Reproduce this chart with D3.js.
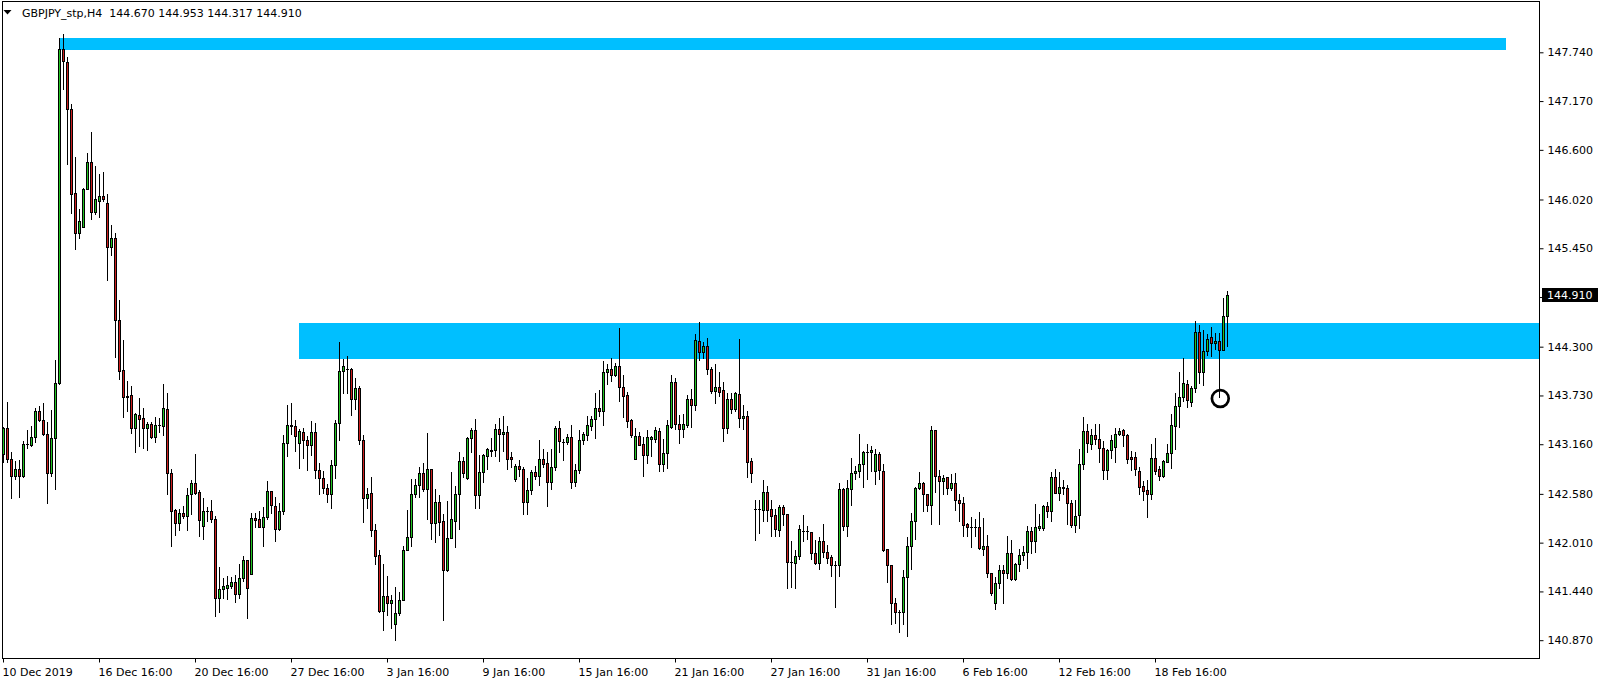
<!DOCTYPE html>
<html><head><meta charset="utf-8">
<script src="https://cdn.jsdelivr.net/npm/d3@7/dist/d3.min.js"></script>
<style>html,body{margin:0;padding:0;background:#fff;overflow:hidden}</style>
</head><body>
<svg id="c" width="1604" height="683"></svg>
<script>
const symbolTitle = "GBPJPY_stp,H4";
const lastBar = [144.670, 144.953, 144.317, 144.910];

const open = [143.05,143.35,142.99,142.79,142.88,142.80,143.17,143.16,143.25,143.55,143.45,143.28,142.83,143.24,143.88,147.78,147.63,147.08,146.10,145.63,145.70,146.15,146.46,145.88,146.01,146.07,145.98,145.47,145.58,144.62,144.03,143.73,143.74,143.36,143.51,143.47,143.35,143.40,143.25,143.39,143.38,143.58,142.83,142.40,142.25,142.36,142.33,142.58,142.71,142.61,142.21,142.39,142.39,142.29,141.37,141.47,141.49,141.51,141.56,141.42,141.60,141.81,141.65,142.30,142.29,142.20,142.32,142.62,142.44,142.18,142.38,143.18,143.38,143.38,143.18,143.31,143.22,143.16,143.31,142.86,142.77,142.65,142.59,142.92,143.41,144.02,144.05,144.05,143.69,143.82,143.22,142.54,142.60,142.16,141.87,141.22,141.39,141.31,141.06,141.19,141.35,141.93,142.08,142.58,142.69,142.83,142.64,142.88,142.25,142.49,142.27,141.70,142.07,142.27,142.59,142.97,142.77,143.24,143.33,142.57,142.84,143.03,143.09,143.10,143.34,143.28,143.31,143.02,142.76,142.91,142.88,142.49,142.63,142.84,142.80,142.99,142.95,142.72,142.90,143.35,143.19,143.19,143.25,142.73,142.87,143.21,143.27,143.38,143.46,143.59,143.56,144.01,144.05,143.98,144.08,143.83,143.74,143.45,142.99,143.26,143.17,143.04,143.23,143.23,143.32,142.93,143.06,143.37,143.89,143.40,143.34,143.39,143.69,143.62,144.37,144.24,144.31,144.04,143.79,143.83,143.80,143.36,143.69,143.58,143.75,143.47,143.50,142.97,142.41,142.41,142.40,142.61,142.41,142.34,142.16,142.43,142.35,141.79,141.78,141.86,142.15,142.15,142.14,141.89,141.78,142.04,141.91,141.85,141.75,141.75,142.64,142.21,142.64,142.83,142.85,142.94,143.08,143.07,142.85,143.05,142.85,141.94,141.75,141.31,141.21,141.20,141.61,141.98,142.27,142.65,142.71,142.58,142.45,143.33,142.80,142.74,142.78,142.65,142.71,142.52,142.48,142.23,142.20,142.20,142.20,141.94,141.98,141.66,141.31,141.55,141.70,141.66,141.89,141.59,141.77,141.87,141.91,142.15,142.03,142.19,142.19,142.44,142.39,142.78,142.60,142.67,142.65,142.48,142.22,142.34,142.93,143.32,143.17,143.27,143.23,143.12,142.87,143.10,143.13,143.28,143.33,143.27,143.02,143.02,142.85,142.68,142.63,142.59,143.00,142.88,142.80,142.96,143.06,143.38,143.61,143.72,143.87,143.66,143.82,144.48,144.01,144.25,144.42,144.35,144.37,144.27,144.670];
const high = [143.37,143.66,143.07,142.97,142.98,143.20,143.33,143.38,143.59,143.61,143.65,143.43,143.57,144.15,147.91,147.96,147.69,147.14,146.52,145.91,146.16,146.57,146.81,146.42,146.32,146.35,146.09,145.73,145.63,144.85,144.38,143.90,143.85,143.53,143.71,143.59,143.42,143.43,143.48,143.47,143.87,143.76,142.88,142.41,142.41,142.44,142.66,142.75,143.05,142.63,142.54,142.43,142.51,142.33,141.73,141.60,141.63,141.61,141.64,141.77,141.86,141.81,142.36,142.36,142.39,142.43,142.74,142.62,142.55,142.48,143.27,143.62,143.65,143.45,143.34,143.36,143.26,143.44,143.41,142.95,142.85,142.70,142.98,143.45,144.36,144.16,144.20,144.06,143.94,143.85,143.27,142.66,142.78,142.23,141.93,141.77,141.63,141.40,141.50,141.44,141.98,142.40,142.76,142.76,142.90,142.95,143.30,142.88,142.64,142.57,142.35,142.50,142.84,142.68,143.07,143.02,143.25,143.36,143.46,143.04,143.05,143.12,143.24,143.40,143.47,143.50,143.38,143.07,142.93,142.98,142.90,142.77,142.87,142.91,143.22,143.11,143.07,143.11,143.38,143.44,143.23,143.28,143.39,142.94,143.33,143.31,143.50,143.49,143.76,143.80,144.14,144.10,144.17,144.12,144.52,143.98,143.78,143.46,143.35,143.31,143.25,143.33,143.26,143.37,143.35,143.23,143.45,143.97,143.94,143.51,143.52,143.74,143.81,144.45,144.60,144.36,144.41,144.07,144.10,144.01,143.89,143.76,143.76,143.78,144.39,143.63,143.55,143.01,142.51,142.52,142.75,142.68,142.51,142.41,142.46,142.45,142.35,142.04,141.93,142.22,142.34,142.21,142.14,142.05,142.08,142.23,141.99,141.87,141.80,142.71,142.66,142.75,143.00,142.91,143.29,143.09,143.17,143.15,143.11,143.07,142.94,141.94,141.75,141.37,141.23,141.70,142.08,142.36,142.67,142.84,142.73,142.58,143.38,143.33,142.86,142.81,142.78,142.82,142.83,142.59,142.55,142.25,142.31,142.29,142.37,142.30,142.11,141.66,141.61,141.76,141.76,142.09,142.05,141.78,141.94,141.98,142.21,142.20,142.47,142.35,142.46,142.49,142.84,142.88,142.84,142.75,142.69,142.51,142.52,143.11,143.48,143.40,143.34,143.40,143.40,143.20,143.11,143.27,143.36,143.36,143.34,143.29,143.09,143.07,142.90,142.74,142.75,143.17,143.24,142.91,142.98,143.17,143.52,143.76,144.01,144.17,143.92,143.85,144.61,144.56,144.50,144.45,144.53,144.46,144.47,144.88,144.953];
const low = [142.96,142.96,142.54,142.76,142.55,142.78,143.12,143.15,143.19,143.44,143.27,142.48,142.79,142.64,143.87,147.32,146.44,145.87,145.45,145.58,145.70,146.15,145.80,145.86,145.82,146.01,145.08,145.38,144.19,143.93,143.48,143.55,143.30,143.07,143.14,143.12,143.10,143.24,143.19,143.31,143.27,142.59,141.98,142.11,142.16,142.30,142.16,142.35,142.59,142.09,142.06,142.27,142.26,141.16,141.20,141.37,141.36,141.48,141.32,141.37,141.57,141.14,141.65,142.20,142.20,141.98,142.29,142.36,142.03,142.16,142.35,143.03,143.29,143.09,142.89,143.01,142.86,143.04,142.77,142.59,142.60,142.49,142.42,142.77,143.22,143.77,143.77,143.51,143.58,143.17,142.26,142.42,142.09,141.77,141.20,141.00,141.17,141.02,140.88,141.17,141.35,141.93,141.98,142.55,142.55,142.62,142.29,142.06,142.02,142.11,141.11,141.68,142.07,141.97,142.18,142.78,142.76,143.08,142.42,142.42,142.72,142.88,143.03,143.03,142.97,143.09,142.88,142.90,142.74,142.80,142.35,142.35,142.58,142.76,142.69,142.90,142.44,142.64,142.87,143.07,142.98,143.17,142.66,142.68,142.83,143.17,143.22,143.33,143.24,143.50,143.39,143.87,143.90,143.96,143.67,143.48,143.37,143.25,142.99,143.16,142.80,142.95,143.03,143.19,142.85,142.85,142.89,143.36,143.34,143.18,143.25,143.37,143.37,143.57,144.15,144.17,143.99,143.76,143.65,143.73,143.20,143.30,143.53,143.55,143.37,143.34,142.78,142.72,142.05,142.13,142.27,142.27,142.09,142.09,142.09,142.22,141.49,141.50,141.48,141.82,142.04,142.06,141.82,141.77,141.71,141.85,141.78,141.63,141.26,141.63,142.16,142.09,142.46,142.76,142.78,142.67,142.76,142.85,142.70,142.76,141.92,141.56,141.07,141.08,140.97,141.07,140.92,141.71,142.06,142.64,142.38,142.39,142.23,142.61,142.23,142.58,142.58,142.63,142.40,142.27,142.09,142.09,141.97,142.09,141.94,141.87,141.61,141.40,141.24,141.49,141.31,141.60,141.58,141.58,141.69,141.81,141.72,141.89,141.91,142.16,142.16,142.31,142.27,142.60,142.51,142.58,142.23,142.20,142.14,142.19,142.88,143.08,143.11,143.17,142.96,142.76,142.76,143.01,142.96,143.27,143.14,142.95,142.86,142.81,142.58,142.52,142.32,142.53,142.82,142.75,142.78,142.96,142.89,143.11,143.37,143.67,143.60,143.61,143.78,143.88,143.86,144.21,144.20,144.28,143.72,144.27,144.317];
const close = [143.36,142.99,142.79,142.88,142.79,143.17,143.17,143.25,143.55,143.45,143.28,142.83,143.24,143.88,147.79,147.64,147.08,146.09,145.63,145.78,146.15,146.46,145.88,146.03,146.07,146.03,145.47,145.58,144.62,144.02,143.72,143.72,143.35,143.52,143.46,143.35,143.40,143.25,143.39,143.39,143.59,142.83,142.39,142.25,142.36,142.33,142.57,142.71,142.60,142.28,142.38,142.39,142.29,141.37,141.47,141.51,141.52,141.56,141.42,141.60,141.81,141.48,142.30,142.28,142.20,142.32,142.62,142.45,142.18,142.39,143.18,143.39,143.39,143.26,143.32,143.22,143.16,143.31,142.86,142.77,142.65,142.59,142.92,143.41,144.02,144.08,144.05,143.69,143.82,143.22,142.54,142.58,142.16,141.86,141.22,141.39,141.31,141.35,141.19,141.35,141.93,142.08,142.58,142.69,142.83,142.64,142.88,142.25,142.49,142.26,141.70,142.07,142.29,142.59,142.97,142.83,143.24,143.33,142.57,142.84,143.04,143.11,143.10,143.34,143.28,143.31,142.99,142.99,142.91,142.88,142.49,142.63,142.84,142.80,142.99,142.94,142.72,142.90,143.35,143.20,143.19,143.25,142.73,142.87,143.21,143.29,143.39,143.46,143.59,143.55,144.01,144.05,143.97,144.08,143.84,143.73,143.44,143.27,143.26,143.16,143.04,143.25,143.25,143.33,142.93,143.06,143.39,143.89,143.40,143.34,143.40,143.69,143.62,144.38,144.24,144.31,144.04,143.79,143.83,143.78,143.36,143.70,143.58,143.76,143.47,143.50,142.96,142.83,142.41,142.41,142.61,142.40,142.33,142.17,142.43,142.35,141.79,141.79,141.86,142.18,142.15,142.15,141.89,141.78,142.04,141.91,141.84,141.75,141.75,142.64,142.21,142.65,142.83,142.85,142.94,143.07,143.08,143.10,143.05,142.86,141.93,141.75,141.31,141.21,141.21,141.61,141.98,142.27,142.65,142.71,142.58,142.45,143.33,142.80,142.74,142.77,142.65,142.71,142.52,142.48,142.22,142.20,142.20,142.20,141.95,141.98,141.66,141.43,141.55,141.70,141.66,141.89,141.59,141.77,141.87,141.91,142.15,142.03,142.20,142.21,142.44,142.39,142.78,142.60,142.67,142.65,142.48,142.22,142.33,142.93,143.32,143.18,143.27,143.23,143.12,142.87,143.10,143.22,143.29,143.32,143.27,142.99,142.99,142.88,142.67,142.62,142.59,143.00,142.85,142.80,142.97,143.06,143.39,143.61,143.72,143.88,143.68,143.82,144.48,144.01,144.26,144.40,144.35,144.37,144.27,144.67,144.910];

const timeLabels = ["10 Dec 2019","16 Dec 16:00","20 Dec 16:00","27 Dec 16:00","3 Jan 16:00","9 Jan 16:00","15 Jan 16:00","21 Jan 16:00","27 Jan 16:00","31 Jan 16:00","6 Feb 16:00","12 Feb 16:00","18 Feb 16:00"];
const timeLabelBar = [0,24,48,72,96,120,144,168,192,216,240,264,288];
const priceTicks = [147.740,147.170,146.600,146.020,145.450,144.880,144.300,143.730,143.160,142.580,142.010,141.440,140.870];

const zoneStartBar = [13.95, 73.9];
const zoneEndBar = [375.6, 400];
const zoneTop = [147.91, 144.58];
const zoneBottom = [147.77, 144.16];

const markBar = [304.2];
const markPrice = [143.70];

const bullColor = "#22c422", bearColor = "#cc1e1e", zoneColor = "#00bfff";
const FONT = "DejaVu Sans, Tahoma, sans-serif";

const svg = d3.select("#c");
const fr = {l: 2, t: 1, r: 1539, b: 658};

const x = d3.scaleLinear().domain([0, open.length - 1]).range([3.5, 3.5 + 4 * (open.length - 1)]);
const y = d3.scaleLinear().domain([140.87, 147.74]).range([640.7, 52.8]);

svg.append("rect").attr("width", 1604).attr("height", 683).attr("fill", "#fff");
svg.append("clipPath").attr("id", "plot").append("rect")
  .attr("x", fr.l + 1).attr("y", fr.t + 1).attr("width", fr.r - fr.l - 1).attr("height", fr.b - fr.t - 1);
const plot = svg.append("g").attr("clip-path", "url(#plot)");

// zones
const zones = d3.range(zoneStartBar.length);
plot.selectAll("rect.zone").data(zones).join("rect").attr("class", "zone")
  .attr("x", i => Math.round(x(zoneStartBar[i])))
  .attr("width", i => Math.round(x(zoneEndBar[i])) - Math.round(x(zoneStartBar[i])))
  .attr("y", i => Math.round(y(zoneTop[i])))
  .attr("height", i => Math.round(y(zoneBottom[i])) - Math.round(y(zoneTop[i])))
  .attr("fill", zoneColor);

const bars = d3.range(open.length);
const col = i => Math.round(x(i) - 0.5);
// wicks
plot.selectAll("rect.wick").data(bars).join("rect").attr("class", "wick")
  .attr("x", i => col(i)).attr("width", 1)
  .attr("y", i => Math.round(y(high[i])))
  .attr("height", i => Math.round(y(low[i])) - Math.round(y(high[i])) + 1)
  .attr("fill", "#000");
// bodies
const yT = i => Math.round(y(Math.max(open[i], close[i])));
const yB = i => Math.round(y(Math.min(open[i], close[i])));
plot.selectAll("rect.body").data(bars).join("rect").attr("class", "body")
  .attr("x", i => col(i) - 1).attr("width", 3)
  .attr("y", yT).attr("height", i => yB(i) - yT(i) + 1)
  .attr("fill", "#000");
plot.selectAll("rect.fill").data(bars.filter(i => yB(i) - yT(i) >= 2)).join("rect").attr("class", "fill")
  .attr("x", i => col(i)).attr("width", 1)
  .attr("y", i => yT(i) + 1).attr("height", i => yB(i) - yT(i) - 1)
  .attr("fill", i => close[i] > open[i] ? bullColor : bearColor);

// annotation circle
plot.selectAll("circle.mark").data(markBar).join("circle").attr("class", "mark")
  .attr("cx", (d, i) => x(d)).attr("cy", (d, i) => y(markPrice[i])).attr("r", 8.4)
  .attr("fill", "none").attr("stroke", "#000").attr("stroke-width", 2.7);

// frame
svg.append("rect").attr("x", fr.l + 0.5).attr("y", fr.t + 0.5)
  .attr("width", fr.r - fr.l).attr("height", fr.b - fr.t)
  .attr("fill", "none").attr("stroke", "#000").attr("stroke-width", 1);

// price axis
const ay = svg.append("g").attr("transform", `translate(${fr.r + 0.5},0)`)
  .call(d3.axisRight(y).tickValues(priceTicks).tickFormat(d3.format(".3f")).tickSize(4).tickPadding(4).offset(0));
ay.select(".domain").remove();
ay.selectAll("line").attr("stroke", "#000");
ay.selectAll("text").attr("font-family", FONT).attr("font-size", 11).attr("fill", "#000");

// current price label
const lp = lastBar[3];
svg.append("rect").attr("x", 1542).attr("y", Math.round(y(lp)) - 7).attr("width", 56).attr("height", 14).attr("fill", "#000");
svg.append("text").attr("x", 1547).attr("y", y(lp)).attr("dy", "0.36em")
  .attr("font-family", FONT).attr("font-size", 11).attr("fill", "#fff").text(d3.format(".3f")(lp));

// time axis
const ax = svg.append("g").attr("transform", `translate(0,${fr.b + 0.5})`)
  .call(d3.axisBottom(x).tickValues(timeLabelBar).tickFormat((d, i) => timeLabels[i]).tickSize(4).offset(0));
ax.select(".domain").remove();
ax.selectAll("line").attr("stroke", "#000");
ax.selectAll("text").attr("font-family", FONT).attr("font-size", 11).attr("fill", "#000")
  .attr("text-anchor", "start").attr("x", -1).attr("y", 17).attr("dy", 0);

// header
svg.append("path").attr("d", "M3.5,10 L11.5,10 L7.5,14.5 Z").attr("fill", "#000");
svg.append("text").attr("x", 22).attr("y", 16.5).attr("font-family", FONT).attr("font-size", 11)
  .attr("fill", "#000").style("white-space", "pre")
  .text(symbolTitle + "  " + lastBar.map(d3.format(".3f")).join(" "));
</script>
</body></html>
